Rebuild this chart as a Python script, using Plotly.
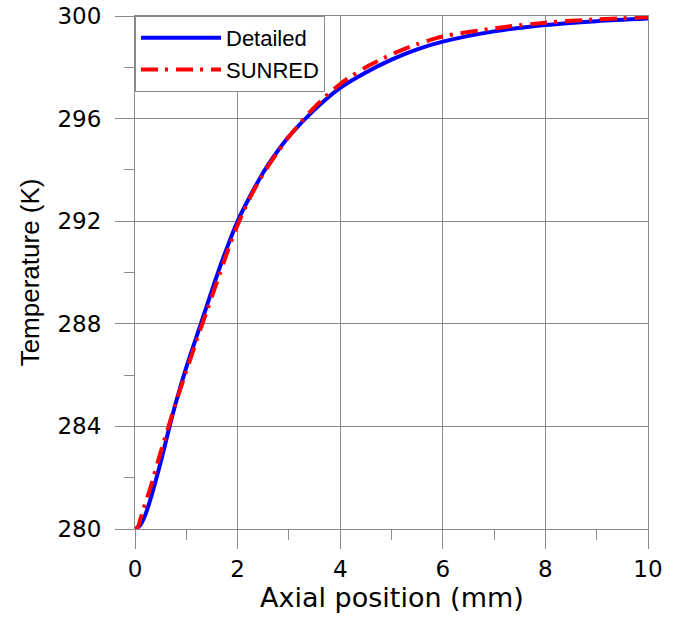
import plotly.graph_objects as go

# Data
detailed_x = [0, 0.1, 0.2, 0.3, 0.4, 0.5, 0.6, 0.7, 0.8, 1.0, 1.2, 1.4, 1.6, 1.8, 2.0,
              2.25, 2.5, 2.75, 3.0, 3.5, 4.0, 4.5, 5.0, 5.5, 6.0, 7.0, 8.0, 9.0, 10.0]
detailed_t = [280.0, 280.15, 280.55, 281.15, 281.85, 282.6, 283.4, 284.2, 284.95, 286.3,
              287.5, 288.7, 289.9, 291.0, 292.0, 293.0, 293.9, 294.65, 295.3, 296.35,
              297.2, 297.8, 298.3, 298.7, 299.0, 299.4, 299.65, 299.8, 299.9]

sunred_x = [0, 0.05, 0.1, 0.2, 0.3, 0.4, 0.5, 0.6, 0.7, 0.8, 1.0, 1.2, 1.4, 1.6, 1.8, 2.0,
            2.25, 2.5, 2.75, 3.0, 3.5, 4.0, 4.5, 5.0, 5.5, 6.0, 7.0, 8.0, 9.0, 10.0]
sunred_t = [280.0, 280.05, 280.35, 281.0, 281.6, 282.3, 283.0, 283.65, 284.3, 284.95,
            286.15, 287.35, 288.5, 289.65, 290.8, 291.85, 292.95, 293.85, 294.6, 295.3,
            296.45, 297.35, 298.0, 298.5, 298.9, 299.2, 299.52, 299.74, 299.87, 299.95]

x_ticks = [0, 2, 4, 6, 8, 10]
y_ticks = [280, 284, 288, 292, 296, 300]

fig = go.Figure()
fig.add_trace(go.Scatter(x=detailed_x, y=detailed_t, mode="lines", name="Detailed",
                         line=dict(color="#0000ff", width=4, shape="spline", smoothing=0.8)))
fig.add_trace(go.Scatter(x=sunred_x, y=sunred_t, mode="lines", name="SUNRED",
                         line=dict(color="#ff0000", width=4, dash="17px,7px,3px,8px",
                                   shape="spline", smoothing=0.8)))

grid = "#8a8a8a"
tickfont = dict(family="DejaVu Sans", size=23, color="black")

fig.update_layout(
    width=686, height=621,
    margin=dict(l=135, r=38, t=16, b=92),
    paper_bgcolor="white", plot_bgcolor="white",
    showlegend=True,
    legend=dict(x=0, y=1, xanchor="left", yanchor="top",
                bordercolor=grid, borderwidth=1, bgcolor="white",
                itemwidth=80,
                font=dict(family="Liberation Sans", size=22, color="black")),
    xaxis=dict(range=[0, 10], tickvals=x_ticks, ticktext=[str(v) for v in x_ticks],
               showgrid=True, gridcolor=grid, gridwidth=1,
               showline=True, linecolor=grid, linewidth=1, mirror=True,
               ticks="outside", ticklen=19, tickcolor=grid, tickwidth=1,
               minor=dict(dtick=1, ticks="outside", ticklen=10, tickcolor=grid, showgrid=False),
               zeroline=False, tickfont=tickfont, automargin=False),
    yaxis=dict(range=[280, 300], tickvals=y_ticks, ticktext=[str(v) for v in y_ticks],
               showgrid=True, gridcolor=grid, gridwidth=1,
               showline=True, linecolor=grid, linewidth=1, mirror=True,
               ticks="outside", ticklen=19, tickcolor=grid, tickwidth=1,
               ticklabelstandoff=9,
               minor=dict(dtick=2, ticks="outside", ticklen=10, tickcolor=grid, showgrid=False),
               zeroline=False, tickfont=tickfont, automargin=False),
    annotations=[
        dict(text="Axial position (mm)", xref="paper", yref="paper",
             x=0.5, y=-0.1345, xanchor="center", yanchor="middle", showarrow=False,
             font=dict(family="DejaVu Sans", size=27, color="black")),
        dict(text="Temperature (K)", xref="paper", yref="paper",
             x=-0.205, y=0.5, xanchor="center", yanchor="middle", showarrow=False,
             textangle=-90,
             font=dict(family="Liberation Sans", size=26, color="black")),
    ],
)

fig.write_html("out.html", config={"displayModeBar": False},
               post_script="document.body.style.margin='0';")
